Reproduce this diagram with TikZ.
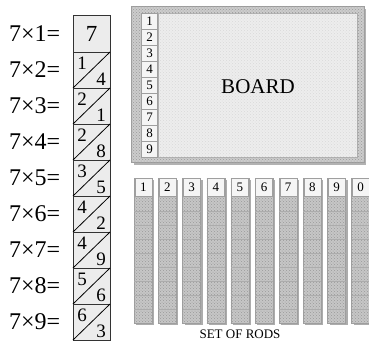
\documentclass[tikz,border=0pt]{standalone}
\usepackage{fontspec}
\setmainfont{Liberation Serif}
\usetikzlibrary{patterns}

\begin{document}
\begin{tikzpicture}[x=1pt, y=-1pt]

% Stili
\tikzstyle{cella} = [draw=black!80, fill=gray!15, line width=0.8pt]
\tikzstyle{grana} = [postaction={pattern=crosshatch dots, pattern color=gray!80}]
\tikzstyle{granafine} = [postaction={pattern=crosshatch dots, pattern color=gray!30}]
\tikzstyle{casella} = [draw=gray!75, fill=gray!8, inner sep=0pt,
    font=\fontsize{13}{13}\selectfont]
\tikzstyle{etichetta} = [anchor=west, inner sep=0pt, font=\fontsize{24}{24}\selectfont]
\tikzstyle{cifra} = [inner sep=0pt, font=\fontsize{19}{19}\selectfont]

\useasboundingbox (0,0) rectangle (369,341);

% Colonna del 7
\draw[cella] (73,15) rectangle (110,52);
\node (cifra1) [cifra, font=\fontsize{23}{23}\selectfont] at (91.5,33.5) {7};
\node (lab1) [etichetta] at (9,33.5) {7×1=};
\foreach \k/\a/\b in {2/1/4, 3/2/1, 4/2/8, 5/3/5, 6/4/2, 7/4/9, 8/5/6, 9/6/3} {
  \pgfmathsetmacro{\t}{15+36*(\k-1)+1}
  \draw[cella] (73,\t) rectangle (110,\t+36);
  \draw[line width=0.8pt] (73,\t+36) -- (110,\t);
  \node (su\k) [cifra] at (82,\t+11) {\a};
  \node (giu\k) [cifra] at (101,\t+27) {\b};
  \node (lab\k) [etichetta] at (9,\t+18) {7×\k=};
}

% Tavola
\fill[gray!60] (134,9) rectangle (366,165);
\draw[gray!75, fill=gray!40, grana] (131,6) rectangle (364,162);
\draw[gray!65, fill=gray!14, granafine] (158,13) rectangle (357,157);
\foreach \n in {1,...,9}
  \node (riga\n) [casella, minimum width=16pt, minimum height=16pt]
    at (149.5,13+16*\n-8) {\n};
\node (board) at (258,87) {\fontsize{21}{21}\selectfont BOARD};

% Bastoncini
\foreach \n [count=\i from 0] in {1,...,9,0} {
  \pgfmathsetmacro{\x}{134.3+24.15*\i}
  \fill[gray!65] (\x+2,180) rectangle (\x+20,325);
  \draw[gray!75, fill=gray!45, grana] (\x,178) rectangle (\x+18,323);
  \foreach \r in {1,...,8}
    \draw[gray!65] (\x,197+14*\r) -- (\x+18,197+14*\r);
  \node (testa\n) [casella, minimum width=17pt, minimum height=18pt]
    at (\x+9,187.5) {\n};
}
\node (rods) at (240,334) {\fontsize{13}{13}\selectfont SET OF RODS};

\end{tikzpicture}
\end{document}
